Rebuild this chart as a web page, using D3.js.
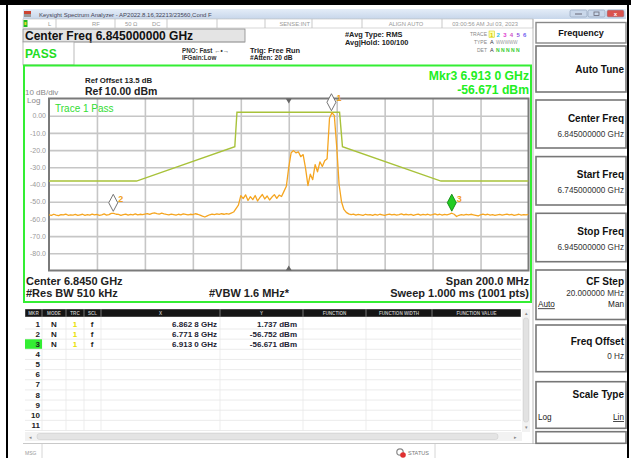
<!DOCTYPE html>
<html lang="en">
<head>
<meta charset="UTF-8">
<title>Keysight Spectrum Analyzer</title>
<style>
  html, body { margin: 0; padding: 0; background: #fff; }
  svg { display: block; font-family: "Liberation Sans", Arial, sans-serif; }
</style>
</head>
<body>
<svg id="chart" width="631" height="458"></svg>
<script src="https://d3js.org/d3.v7.min.js"></script>
<script>
// sweep settings
const startGHz = 6.745;
const stopGHz = 6.945;
const refLevel = 10;
const bottomLevel = -90;
const yTickValues = [0, -10, -20, -30, -40, -50, -60, -70, -80];
const yTickLabels = ["0.00", "-10.0", "-20.0", "-30.0", "-40.0", "-50.0", "-60.0", "-70.0", "-80.0"];

// trace 1, one point per MHz from 6.745 GHz
const traceStepGHz = 0.001;
const traceDbm = [
  -57.6,-57.9,-57.3,-57.8,-58.1,-57.5,-57.7,-57.2,-57.9,-57.6,
  -57.8,-57.4,-58.0,-57.6,-57.3,-57.9,-57.5,-57.8,-57.2,-57.7,
  -57.4,-57.9,-57.6,-57.1,-57.8,-57.5,-56.8,-56.8,-57.3,-57.4,
  -57.9,-57.5,-57.2,-57.8,-57.4,-57.6,-57.1,-57.7,-57.3,-57.5,
  -57.2,-56.9,-57.4,-56.8,-56.5,-56.9,-57.2,-56.7,-57.1,-57.4,
  -57.6,-57.2,-57.5,-57.8,-57.3,-57.6,-57.1,-57.4,-57.7,-57.3,
  -57.5,-57.0,-57.3,-57.8,-58.4,-58.9,-58.2,-57.6,-57.2,-57.5,
  -57.1,-57.4,-57.0,-57.3,-56.9,-57.2,-56.6,-56.0,-54.0,-52.0,
  -46.5,-48.2,-46.0,-49.3,-47.1,-48.8,-46.4,-49.6,-47.5,-45.8,
  -48.4,-46.7,-49.0,-47.3,-45.9,-48.1,-46.2,-47.0,-44.0,-41.0,
  -30.0,-21.5,-20.3,-21.6,-21.0,-23.8,-22.6,-30.5,-40.6,-34.0,
  -37.2,-28.4,-32.6,-26.8,-29.5,-26.2,-25.0,-1.5,1.737,0.2,
  -18.0,-40.0,-50.0,-54.5,-56.2,-57.1,-57.5,-57.2,-57.8,-57.4,
  -57.6,-57.9,-57.3,-57.7,-57.5,-58.0,-57.4,-57.8,-57.3,-57.6,
  -57.9,-57.5,-57.2,-57.7,-57.4,-57.8,-57.5,-57.1,-57.6,-57.3,
  -57.7,-57.4,-57.9,-57.5,-57.2,-57.8,-57.4,-57.6,-57.3,-57.8,
  -57.5,-57.1,-57.6,-57.3,-57.8,-57.4,-57.6,-57.2,-56.7,-57.3,
  -58.6,-57.9,-57.5,-57.8,-57.4,-57.7,-57.3,-57.6,-57.9,-58.3,
  -57.6,-57.2,-57.6,-57.3,-57.8,-57.5,-57.9,-57.6,-57.4,-57.8,
  -57.5,-57.2,-57.7,-57.4,-57.9,-57.6,-57.3,-57.8,-57.5,-57.7,-57.4
];

// limit mask (offset from center in MHz)
const centerGHz = 6.845;
const limitOffsetMHz = [-100, -63.5, -22.5, -21.6, 21.2, 22.4, 63.5, 100];
const limitDbm = [-38, -38, -18, 2, 2, -18, -38, -38];

// markers
const markerIds = [1, 2, 3];
const markerGHz = [6.8628, 6.7718, 6.9130];
const markerDbm = [1.737, -56.752, -56.671];

const tableCols = ["MKR", "MODE", "TRC", "SCL", "X", "Y", "FUNCTION", "FUNCTION WIDTH", "FUNCTION VALUE"];
const tableColEdges = [25, 42, 66, 84, 101, 220, 303, 366, 432, 521];

const softLabels = ["Auto Tune", "Center Freq", "Start Freq", "Stop Freq", "CF Step", "Freq Offset", "Scale Type", ""];
const softValues = ["", "6.845000000 GHz", "6.745000000 GHz", "6.945000000 GHz", "20.000000 MHz", "0 Hz", "", ""];
const softLeft = ["", "", "", "", "Auto", "", "Log", ""];
const softRight = ["", "", "", "", "Man", "", "Lin", ""];

const svg = d3.select("#chart");
const minus = s => s.replace("\u2212", "-");

// outer black frame
svg.append("rect").attr("x", 0).attr("y", 0).attr("width", 631).attr("height", 5).attr("fill", "#000");
svg.append("rect").attr("x", 6).attr("y", 0).attr("width", 2).attr("height", 458).attr("fill", "#000");
svg.append("rect").attr("x", 627).attr("y", 0).attr("width", 2).attr("height", 458).attr("fill", "#000");

// title bar
const grad = svg.append("defs").append("linearGradient").attr("id", "tb").attr("x1", 0).attr("y1", 0).attr("x2", 0).attr("y2", 1);
grad.append("stop").attr("offset", "0%").attr("stop-color", "#e4edf8");
grad.append("stop").attr("offset", "100%").attr("stop-color", "#c7d6ea");
svg.append("rect").attr("x", 23).attr("y", 9).attr("width", 603).attr("height", 10).attr("fill", "url(#tb)");
svg.append("rect").attr("x", 24).attr("y", 11).attr("width", 7).attr("height", 6).attr("fill", "#c43");
svg.append("rect").attr("x", 24).attr("y", 14).attr("width", 7).attr("height", 3).attr("fill", "#999");
svg.append("text").attr("x", 39).attr("y", 16.5).attr("font-size", 6).attr("fill", "#445")
  .text("Keysight Spectrum Analyzer - AP2022.8.16,32213/23560,Cond F");
[[570, "#c9d7ea"], [588, "#c9d7ea"], [607, "#d9534f"]].forEach(([bx, c]) => {
  svg.append("rect").attr("x", bx).attr("y", 10).attr("width", 17).attr("height", 7).attr("rx", 1.5)
    .attr("fill", c).attr("stroke", "#8a9cb5").attr("stroke-width", 0.6);
});
svg.append("line").attr("x1", 575).attr("x2", 582).attr("y1", 14).attr("y2", 14).attr("stroke", "#667").attr("stroke-width", 1);
svg.append("rect").attr("x", 594).attr("y", 12).attr("width", 5).attr("height", 3.5).attr("fill", "none").attr("stroke", "#667").attr("stroke-width", 0.8);
svg.append("text").attr("x", 615.5).attr("y", 16).attr("font-size", 6).attr("font-weight", "bold").attr("fill", "#fff").attr("text-anchor", "middle").text("x");

// status row
svg.append("rect").attr("x", 23).attr("y", 19).attr("width", 510).attr("height", 9).attr("fill", "#fff").attr("stroke", "#bbb").attr("stroke-width", 0.6);
[56, 115, 167, 217, 265, 312, 362, 442].forEach(sx => {
  svg.append("line").attr("x1", sx).attr("x2", sx).attr("y1", 19).attr("y2", 28).attr("stroke", "#bbb").attr("stroke-width", 0.8);
});
svg.append("rect").attr("x", 23.5).attr("y", 20).attr("width", 4).attr("height", 7).attr("fill", "#2b2");
svg.append("rect").attr("x", 24.5).attr("y", 22).attr("width", 2).attr("height", 3).attr("fill", "#dd2");
const statusText = [[48, "start", "L"], [92, "start", "RF"], [125, "start", "50 \u03A9"], [152, "start", "DC"],
  [310, "end", "SENSE:INT"], [406, "middle", "ALIGN AUTO"], [485, "middle", "03:00:56 AM Jul 03, 2023"]];
statusText.forEach(([tx, a, t]) => {
  svg.append("text").attr("x", tx).attr("y", 26).attr("font-size", 5.8).attr("fill", "#999").attr("text-anchor", a).text(t);
});

// center freq banner
svg.append("rect").attr("x", 23).attr("y", 29).attr("width", 222).attr("height", 13).attr("fill", "#e4e4e4").attr("stroke", "#888").attr("stroke-width", 0.8);
svg.append("text").attr("x", 25).attr("y", 40).attr("font-size", 12).attr("font-weight", "bold").attr("fill", "#111")
  .text("Center Freq " + d3.format(".9f")(centerGHz) + " GHz");
svg.append("rect").attr("x", 23).attr("y", 42).attr("width", 51).attr("height", 23).attr("fill", "#fff").attr("stroke", "#aaa").attr("stroke-width", 0.8);
svg.append("text").attr("x", 25).attr("y", 58).attr("font-size", 12).attr("font-weight", "bold").attr("fill", "#2d2").text("PASS");
svg.append("line").attr("x1", 74).attr("x2", 245).attr("y1", 42).attr("y2", 42).attr("stroke", "#aaa").attr("stroke-width", 0.8);

const small = (tx, ty, t, fs, weight, anchor, fill) => svg.append("text").attr("x", tx).attr("y", ty)
  .attr("font-size", fs).attr("font-weight", weight || "normal").attr("text-anchor", anchor || "start")
  .attr("fill", fill || "#222").text(t);
small(182, 53, "PNO: Fast \u2190\u2022\u2192", 6.3, "bold", "start", "#333");
small(182, 60, "IFGain:Low", 6.3, "bold", "start", "#333");
small(250, 53, "Trig: Free Run", 7.4, "bold");
small(250, 60, "#Atten: 20 dB", 6.6, "bold");
small(345, 37, "#Avg Type: RMS", 7.4, "bold");
small(345, 45, "Avg|Hold: 100/100", 7.4, "bold");
small(487, 36, "TRACE", 5, "normal", "end", "#888");
small(487, 44, "TYPE", 5, "normal", "end", "#888");
small(487, 52, "DET", 5, "normal", "end", "#888");
const traceColors = ["#d8cc00", "#30c0e8", "#e040d0", "#d050c8", "#9050e0", "#7060f0"];
svg.append("rect").attr("x", 489).attr("y", 31).attr("width", 5.5).attr("height", 6.5).attr("fill", "#ffffb0").attr("stroke", "#cc0").attr("stroke-width", 0.5);
traceColors.forEach((c, k) => small(490 + k * 6.6, 36.5, String(k + 1), 6, "bold", "start", c));
small(490, 44, "A", 5.5, "normal", "start", "#334");
small(496, 44, "WWWWW", 4.6, "normal", "start", "#999");
small(490, 52, "A", 5.5, "normal", "start", "#334");
small(496, 52, "N N N N N", 5, "bold", "start", "#3c3");

// green measurement box
svg.append("rect").attr("x", 24).attr("y", 65.5).attr("width", 507).attr("height", 236.5)
  .attr("fill", "#fff").attr("stroke", "#33ee33").attr("stroke-width", 2);

small(85, 83, "Ref Offset 13.5 dB", 7.8, "bold");
small(85, 95, "Ref 10.00 dBm", 10.5, "bold");
small(25, 95, "10 dB/div", 8, "normal", "start", "#888");
small(27, 103, "Log", 8, "normal", "start", "#888");

const mkrFmt = g => { const s = d3.format(".4f")(g); return s.slice(0, -1) + " " + s.slice(-1); };
const dbmFmt = v => minus(d3.format(".3f")(v)) + " dBm";
small(529, 79.5, "Mkr3 " + mkrFmt(markerGHz[2]) + " GHz", 12.2, "bold", "end", "#2e2");
small(529, 93.5, dbmFmt(markerDbm[2]), 12.2, "bold", "end", "#2e2");

// plot
const x = d3.scaleLinear().domain([startGHz, stopGHz]).range([49, 528.5]);
const y = d3.scaleLinear().domain([bottomLevel, refLevel]).range([270.5, 98.5]);
const plot = svg.append("g");
plot.append("rect").attr("x", x(startGHz)).attr("y", y(refLevel)).attr("width", x(stopGHz) - x(startGHz))
  .attr("height", y(bottomLevel) - y(refLevel)).attr("fill", "#fff");

const xGrid = d3.range(1, 10).map(k => startGHz + k * (stopGHz - startGHz) / 10);
plot.append("g").call(d3.axisBottom(x).tickValues(xGrid).tickSize(-(y(bottomLevel) - y(refLevel))).tickFormat(""))
  .attr("transform", `translate(0,${y(bottomLevel)})`)
  .call(g => g.select(".domain").remove())
  .call(g => g.selectAll("line").attr("stroke", "#c6c6c6").attr("stroke-width", 1.6));
plot.append("g").call(d3.axisLeft(y).tickValues(yTickValues).tickSize(-(x(stopGHz) - x(startGHz))).tickFormat((d, i) => yTickLabels[i]))
  .attr("transform", `translate(${x(startGHz)},0)`)
  .call(g => g.select(".domain").remove())
  .call(g => g.selectAll("line").attr("stroke", "#c6c6c6").attr("stroke-width", 1.6))
  .call(g => g.selectAll("text").attr("x", -3).attr("font-size", 7).attr("fill", "#999")
    .attr("font-family", "\"Liberation Sans\", Arial, sans-serif"));

plot.append("rect").attr("x", x(startGHz)).attr("y", y(refLevel)).attr("width", x(stopGHz) - x(startGHz))
  .attr("height", y(bottomLevel) - y(refLevel)).attr("fill", "none").attr("stroke", "#7a7a7a").attr("stroke-width", 2);

const cx = x(centerGHz);
plot.append("path").attr("d", `M${cx - 3},${y(refLevel)} L${cx + 3},${y(refLevel)} L${cx},${y(refLevel) + 5} Z`).attr("fill", "#666");
plot.append("path").attr("d", `M${cx - 3},${y(bottomLevel)} L${cx + 3},${y(bottomLevel)} L${cx},${y(bottomLevel) - 5} Z`).attr("fill", "#666");

svg.append("defs").append("clipPath").attr("id", "pc").append("rect")
  .attr("x", x(startGHz)).attr("y", y(refLevel)).attr("width", x(stopGHz) - x(startGHz)).attr("height", y(bottomLevel) - y(refLevel));

small(55, 112, "Trace 1 Pass", 10, "normal", "start", "#33dd33");

const limitPts = limitOffsetMHz.map((o, i) => [centerGHz + o / 1000, limitDbm[i]]);
plot.append("path").datum(limitPts).attr("clip-path", "url(#pc)")
  .attr("d", d3.line().x(d => x(d[0])).y(d => y(d[1])))
  .attr("fill", "none").attr("stroke", "#a8c23a").attr("stroke-width", 1.4);

plot.append("path").datum(traceDbm).attr("clip-path", "url(#pc)")
  .attr("d", d3.line().x((d, i) => x(startGHz + i * traceStepGHz)).y(d => y(d)))
  .attr("fill", "none").attr("stroke", "#f5a520").attr("stroke-width", 1.3).attr("stroke-linejoin", "round");

// marker diamonds
markerIds.forEach((id, k) => {
  const mx = x(markerGHz[k]);
  const tip = y(markerDbm[k]) - 2;
  const active = id === 3;
  plot.append("path").attr("d", `M${mx},${tip} L${mx + 4.5},${tip - 8.5} L${mx},${tip - 17} L${mx - 4.5},${tip - 8.5} Z`)
    .attr("fill", active ? "#22cc22" : "#fff").attr("stroke", active ? "#118811" : "#666").attr("stroke-width", 0.9);
  small(mx + 5, tip - 9.5, String(id), 9, "bold", "start", "#f0a020");
});

// bottom annotations
small(26, 285, "Center " + d3.format(".4f")(centerGHz) + " GHz", 11, "bold");
small(26, 297, "#Res BW 510 kHz", 11, "bold");
small(209, 297, "#VBW 1.6 MHz*", 11, "bold");
small(529, 285, "Span 200.0 MHz", 11, "bold", "end");
small(529, 297, "Sweep  1.000 ms (1001 pts)", 11, "bold", "end");

// marker table
const tbl = svg.append("g");
tbl.append("rect").attr("x", 25).attr("y", 309).attr("width", 496).attr("height", 8).attr("fill", "#777");
tableCols.forEach((c, k) => {
  const x0 = tableColEdges[k], x1 = tableColEdges[k + 1];
  tbl.append("rect").attr("x", x0 + 0.5).attr("y", 309.5).attr("width", x1 - x0 - 1).attr("height", 7).attr("fill", "#151515");
  tbl.append("text").attr("x", (x0 + x1) / 2).attr("y", 315.3).attr("text-anchor", "middle").attr("font-size", 4.6)
    .attr("font-weight", "bold").attr("fill", "#bbb").text(c);
});
const rowY = r => 326.5 + (r - 1) * 10.15;
d3.range(1, 12).forEach(r => {
  tbl.append("line").attr("x1", 25).attr("x2", 521).attr("y1", rowY(r) + 2.5).attr("y2", rowY(r) + 2.5).attr("stroke", "#e6e6e6").attr("stroke-width", 0.8);
});
tableColEdges.slice(1, -1).forEach(ex => {
  tbl.append("line").attr("x1", ex).attr("x2", ex).attr("y1", 317).attr("y2", 431).attr("stroke", "#e8e8e8").attr("stroke-width", 0.8);
});
tbl.append("rect").attr("x", 25).attr("y", rowY(3) - 7.5).attr("width", 17).attr("height", 9.5).attr("fill", "#33ee33");
d3.range(1, 12).forEach(r => {
  small(40, rowY(r), String(r), 8, "bold", "end", "#222");
});
markerIds.forEach((id, k) => {
  const ry = rowY(id);
  small(54, ry, "N", 8, "bold", "middle", "#222");
  small(75, ry, "1", 8, "bold", "middle", "#e8e000");
  small(92, ry, "f", 8, "bold", "middle", "#222");
  small(217, ry, mkrFmt(markerGHz[k]) + " GHz", 8, "bold", "end", "#223");
  small(297, ry, dbmFmt(markerDbm[k]), 8, "bold", "end", "#223");
});
// scrollbars
tbl.append("rect").attr("x", 522).attr("y", 309).attr("width", 8).attr("height", 123).attr("fill", "#f2f2f2");
tbl.append("rect").attr("x", 523.5).attr("y", 318).attr("width", 5).attr("height", 104).attr("rx", 2).attr("fill", "#e2e2e2").attr("stroke", "#c8c8c8").attr("stroke-width", 0.5);
small(526, 315, "\u25B4", 5, "normal", "middle", "#888");
small(526, 429, "\u25BE", 5, "normal", "middle", "#888");
tbl.append("rect").attr("x", 25).attr("y", 432).attr("width", 497).attr("height", 9).attr("fill", "#f2f2f2");
tbl.append("rect").attr("x", 37).attr("y", 433.5).attr("width", 461).attr("height", 6).attr("rx", 2.5).attr("fill", "#e4e4e4").attr("stroke", "#c8c8c8").attr("stroke-width", 0.5);
small(30, 439, "\u25C2", 5, "normal", "middle", "#888");
small(515, 439, "\u25B8", 5, "normal", "middle", "#888");

// message bar
svg.append("line").attr("x1", 23).attr("x2", 626).attr("y1", 443.5).attr("y2", 443.5).attr("stroke", "#bbb").attr("stroke-width", 0.8);
svg.append("line").attr("x1", 42).attr("x2", 42).attr("y1", 444).attr("y2", 458).attr("stroke", "#ccc").attr("stroke-width", 0.8);
small(25, 455, "MSG", 5, "normal", "start", "#999");
svg.append("circle").attr("cx", 400).attr("cy", 452).attr("r", 3.2).attr("fill", "none").attr("stroke", "#888").attr("stroke-width", 1.2);
svg.append("circle").attr("cx", 403).attr("cy", 455).attr("r", 2.8).attr("fill", "#e03030");
small(408, 455, "STATUS", 5.5, "normal", "start", "#777");
svg.append("line").attr("x1", 435).attr("x2", 435).attr("y1", 444).attr("y2", 458).attr("stroke", "#ccc").attr("stroke-width", 0.8);

// softkey panel
svg.append("line").attr("x1", 533).attr("x2", 533).attr("y1", 19).attr("y2", 444).attr("stroke", "#aaa").attr("stroke-width", 0.8);
svg.append("rect").attr("x", 536).attr("y", 22.5).attr("width", 90).attr("height", 20.5).attr("fill", "#fff").attr("stroke", "#888").attr("stroke-width", 1.4);
small(581, 36, "Frequency", 9, "bold", "middle", "#111");
const softTop = [46, 100, 156.6, 213.3, 270, 325, 381.7, 431.7];
const softH = [46, 48, 48.4, 48.4, 49.5, 46.7, 46.6, 11.6];
const softLabelDy = [27, 21.7, 21.7, 21.7, 15, 20, 16.6, 0];
const softValueDy = [0, 36.7, 36.7, 36.7, 26, 34.3, 0, 0];
const softLrDy = [0, 0, 0, 0, 37.3, 0, 38.3, 0];
softTop.forEach((t, k) => {
  svg.append("rect").attr("x", 536).attr("y", t).attr("width", 90).attr("height", softH[k])
    .attr("fill", "#fff").attr("stroke", "#777").attr("stroke-width", 1.6);
  if (softLabels[k]) small(624, t + softLabelDy[k], softLabels[k], 10, "bold", "end", "#111");
  if (softValues[k]) small(624, t + softValueDy[k], softValues[k], 8.2, "normal", "end", "#333");
  if (softLeft[k]) {
    const ly = t + softLrDy[k];
    small(538, ly, softLeft[k], 8.2, "normal", "start", "#222").attr("text-decoration", k === 4 ? "underline" : null);
    small(624, ly, softRight[k], 8.2, "normal", "end", "#222").attr("text-decoration", k === 6 ? "underline" : null);
  }
});
</script>
</body>
</html>
